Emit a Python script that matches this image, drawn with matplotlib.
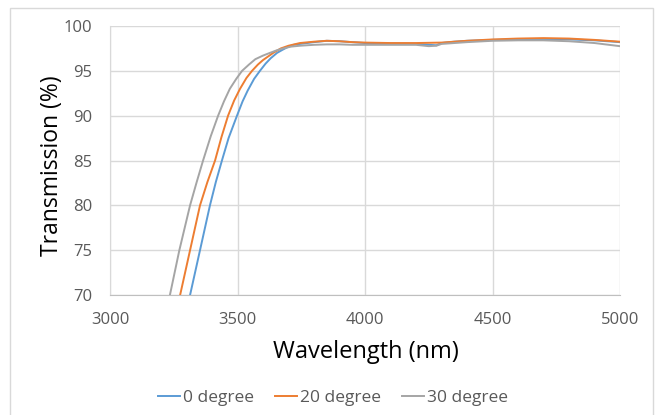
import matplotlib
matplotlib.use("Agg")
import matplotlib.pyplot as plt
from matplotlib.patches import Rectangle

plt.rcParams['font.family'] = ['Open Sans', 'DejaVu Sans']

# Data (wavelength nm, transmission %)
wl_0 = [3250, 3314, 3353, 3392, 3415, 3439, 3465, 3498, 3520, 3540, 3565, 3588, 3610, 3630, 3655,
        3680, 3700, 3720, 3745, 3800, 3850, 3900, 3950, 4000, 4100, 4200, 4250, 4280, 4300,
        4350, 4400, 4500, 4600, 4700, 4800, 4900, 5000]
tr_0 = [62, 70, 75, 80, 82.6, 85, 87.5, 90, 91.6, 92.8, 94.1, 95, 95.8, 96.4, 97.0,
        97.4, 97.7, 97.9, 98.0, 98.2, 98.35, 98.3, 98.2, 98.1, 98.05, 98.0, 97.9, 97.85, 98.1,
        98.25, 98.35, 98.45, 98.5, 98.55, 98.5, 98.4, 98.2]

wl_20 = [3215, 3275, 3314, 3353, 3382, 3412, 3437, 3463, 3487, 3510, 3535, 3557, 3580, 3600, 3620,
         3640, 3670, 3700, 3745, 3800, 3850, 3900, 3950, 4000, 4100, 4200, 4300, 4400, 4500,
         4600, 4700, 4800, 4900, 5000]
tr_20 = [62, 70, 75, 80, 82.6, 85, 87.6, 90, 91.7, 93.0, 94.2, 95, 95.7, 96.2, 96.6,
         97.0, 97.5, 97.8, 98.1, 98.25, 98.35, 98.3, 98.2, 98.15, 98.1, 98.1, 98.15, 98.35, 98.5,
         98.6, 98.65, 98.6, 98.45, 98.25]

wl_30 = [3175, 3235, 3272, 3314, 3340, 3365, 3395, 3424, 3447, 3470, 3495, 3518, 3545, 3570, 3600,
         3627, 3655, 3680, 3710, 3745, 3800, 3850, 3900, 3950, 4000, 4100, 4200, 4250, 4280,
         4300, 4400, 4500, 4600, 4700, 4800, 4900, 5000]
tr_30 = [62, 70, 75, 80, 82.6, 85, 87.7, 90, 91.6, 93.0, 94.1, 95, 95.7, 96.3, 96.7,
         97.0, 97.3, 97.5, 97.7, 97.8, 97.9, 97.95, 97.95, 97.9, 97.9, 97.9, 97.9, 97.75, 97.8,
         98.0, 98.2, 98.35, 98.4, 98.4, 98.3, 98.1, 97.75]

x_ticks = [3000, 3500, 4000, 4500, 5000]
y_ticks = [70, 75, 80, 85, 90, 95, 100]

fig = plt.figure(figsize=(6.56, 4.15), dpi=100)
fig.patches.append(Rectangle((10 / 656, -0.1), 643 / 656, 1.1 - 8 / 415,
                             transform=fig.transFigure, fill=False,
                             edgecolor='#d9d9d9', linewidth=1.0))
ax = fig.add_axes([110 / 656, 1 - 295 / 415, 510 / 656, 269 / 415])

ax.plot(wl_0, tr_0, color='#5b9bd5', lw=1.4, label='0 degree')
ax.plot(wl_20, tr_20, color='#ed7d31', lw=1.4, label='20 degree')
ax.plot(wl_30, tr_30, color='#a5a5a5', lw=1.4, label='30 degree')

ax.set_xlim(3000, 5000)
ax.set_ylim(70, 100)
ax.set_xticks(x_ticks)
ax.set_yticks(y_ticks)
ax.grid(True, color='#d9d9d9', lw=1.0)
ax.set_axisbelow(True)
for s in ['top', 'right']:
    ax.spines[s].set_visible(False)
ax.spines['left'].set_color('#d9d9d9')
ax.spines['bottom'].set_color('#bfbfbf')
ax.tick_params(length=0, colors='#595959', labelsize=12)
ax.tick_params(axis='y', pad=13)
ax.tick_params(axis='x', pad=12)

fig.text(273 / 656 + 93 / 656, 1 - 352 / 415, 'Wavelength (nm)', fontsize=17,
         color='black', ha='center', va='center')
fig.text(52 / 656, 1 - 166 / 415, 'Transmission (%)', fontsize=16.5,
         color='black', ha='center', va='center', rotation=90)

leg = fig.legend(loc='center', bbox_to_anchor=(333 / 656, 1 - 398 / 415), ncol=3,
                 frameon=False, fontsize=12.5, handlelength=1.3, handletextpad=0.15,
                 columnspacing=1.2, labelcolor='#595959')

fig.savefig('out.png', dpi=100)
